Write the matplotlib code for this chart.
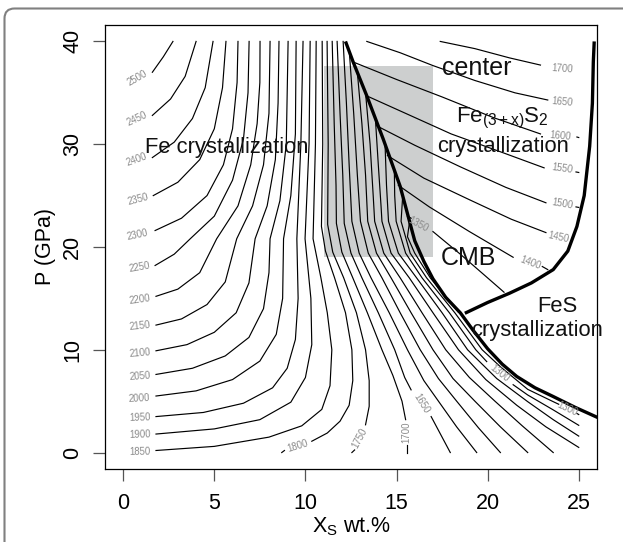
import matplotlib
matplotlib.use("Agg")
import matplotlib.pyplot as plt
from matplotlib.patches import Rectangle, FancyBboxPatch
from matplotlib.transforms import IdentityTransform

plt.rcParams['font.family'] = ['Liberation Sans', 'DejaVu Sans']
plt.rcParams['mathtext.fontset'] = 'custom'
plt.rcParams['mathtext.rm'] = 'Liberation Sans'
plt.rcParams['mathtext.it'] = 'Liberation Sans'
plt.rcParams['mathtext.default'] = 'regular'

# --- boundaries (X_S wt.%, P GPa) ---
eutectic = [(12.2, 40.0), (12.62, 38.0), (13.37, 34.7), (14.27, 30.5), (15.2, 25.9),
            (16.0, 20.6), (16.5, 18.6), (17.0, 16.9), (17.7, 15.1), (18.5, 13.6),
            (19.2, 11.9), (20.0, 10.1), (20.8, 8.6), (21.6, 7.4), (22.6, 6.3),
            (23.6, 5.45), (24.8, 4.4), (26.3, 3.2)]
fes_boundary = [(18.75, 13.55), (20.0, 14.6), (21.2, 15.5), (22.4, 16.5), (23.6, 17.8),
                (24.4, 19.6), (24.9, 22.0), (25.3, 25.0), (25.6, 29.8), (25.75, 34.0),
                (25.8, 38.0), (25.85, 40.0)]

# grey box (CMB -> center range)
box_x = (11.0, 17.0)
box_p = (19.05, 37.65)

# --- isotherms in the Fe field (each entry: list of segments) ---
fe_lines = [
    # 2500 .. 1850, starting at the left edge
    [[(1.6, 37.0), (2.2, 38.5), (2.73, 40)]],
    [[(1.6, 32.8), (2.6, 34.4), (3.4, 36.6), (4.0, 40)]],
    [[(1.6, 28.7), (2.8, 30.2), (3.8, 32.5), (4.5, 35.5), (4.93, 40)]],
    [[(1.65, 25.0), (3.0, 26.3), (4.2, 28.5), (5.0, 31.5), (5.45, 35.5), (5.64, 40)]],
    [[(1.75, 21.6), (3.2, 22.8), (4.6, 25.0), (5.5, 28.0), (6.0, 31.5), (6.25, 36), (6.3, 40)]],
    [[(1.75, 18.2), (2.8, 19.3), (3.68, 20.8), (5.0, 23), (6.0, 26.5), (6.6, 30.5), (6.85, 35), (6.91, 40)]],
    [[(1.8, 15.2), (3.0, 15.9), (4.2, 17.5), (5.13, 20.8), (6.3, 24), (7.0, 28), (7.35, 32), (7.5, 36), (7.51, 40)]],
    [[(1.8, 12.4), (3.2, 13.0), (4.6, 14.4), (5.6, 16.6), (6.23, 20.8), (7.1, 24), (7.7, 28), (8.0, 33), (8.06, 40)]],
    [[(1.8, 9.9), (3.5, 10.5), (5.0, 11.7), (6.2, 13.6), (6.9, 16.5), (7.24, 20.8), (7.9, 24), (8.35, 28.5), (8.5, 34), (8.55, 40)]],
    [[(1.8, 7.6), (3.8, 8.2), (5.6, 9.4), (6.9, 11.2), (7.7, 14), (8.0, 17.5), (8.06, 20.8), (8.6, 24.5), (8.95, 30), (9.05, 40)]],
    [[(1.8, 5.5), (4.0, 6.0), (6.0, 7.1), (7.5, 8.9), (8.4, 11.5), (8.75, 15), (8.8, 20.8), (9.2, 25), (9.45, 31), (9.49, 40)]],
    [[(1.8, 3.5), (4.4, 3.9), (6.6, 4.8), (8.2, 6.3), (9.0, 8.2), (9.45, 11), (9.6, 15), (9.53, 20.8), (9.75, 30), (9.87, 40)]],
    [[(1.8, 1.8), (5.0, 2.3), (7.5, 3.2), (9.2, 4.9), (10.0, 7.3), (10.35, 10.5), (10.3, 15), (9.98, 20.8), (10.2, 30), (10.26, 40)]],
    [[(1.8, 0.2), (5.0, 0.6), (8.0, 1.5), (9.8, 2.6), (10.9, 4.2), (11.35, 6.5), (11.45, 10), (11.2, 13.6), (10.85, 17), (10.42, 20.8), (10.55, 30), (10.59, 40)]],
    # 1800 .. 1650, from the bottom edge to the top edge
    [[(8.7, 0.0), (8.85, 0.2)],
     [(10.35, 1.1), (11.2, 1.9), (11.9, 3.05), (12.4, 4.6), (12.6, 7), (12.55, 10), (12.2, 13.6), (11.6, 17), (11.1, 19.6), (10.88, 22), (10.95, 30), (10.92, 40)]],
    [[(12.55, 0.0), (12.7, 0.25)],
     [(13.3, 2.7), (13.5, 4.5), (13.5, 7), (13.3, 10), (12.8, 13.6), (12.1, 17), (11.5, 19.5), (11.22, 22.2), (11.25, 30), (11.19, 40)]],
    [[(15.55, 0.0), (15.55, 0.7)],
     [(15.5, 3.2), (15.3, 5), (14.8, 7.5), (14.2, 10), (13.4, 13.6), (12.6, 17), (12.0, 19.5), (11.7, 22.3), (11.68, 26), (11.58, 32), (11.47, 40)]],
    [[(17.95, 0.0), (16.9, 3.5)],
     [(15.8, 6.1), (15.45, 7.3), (14.9, 10), (14.0, 13.6), (13.1, 17), (12.5, 19.4), (12.13, 22.3), (12.05, 27), (11.9, 33), (11.74, 40)]],
    # lines running along the eutectic
    [[(19.4, 0.0), (18.3, 2.5), (17.3, 5.0), (16.5, 7.0), (15.6, 10), (14.6, 13.6), (13.6, 17), (12.95, 19.4), (12.55, 22.5), (12.4, 28), (12.25, 34), (12.07, 40)]],
    [[(20.7, 0.0), (19.5, 2.4), (18.3, 5.0), (17.3, 7.2), (16.3, 10), (15.2, 13.6), (14.2, 17), (13.45, 19.4), (13.02, 22.5), (12.85, 27), (12.65, 33), (12.41, 39.0)]],
    [[(22.2, 0.0), (20.7, 2.5), (19.3, 5.0), (18.1, 7.2), (17.0, 10), (15.8, 13.6), (14.7, 17), (13.9, 19.4), (13.42, 22.5), (13.3, 27), (13.1, 32), (12.85, 37.0)]],
    [[(23.6, 0.0), (21.9, 2.6), (20.4, 5.0), (19.0, 7.3), (17.7, 10), (16.4, 13.6), (15.2, 17), (14.3, 19.4), (13.8, 22.5), (13.72, 25), (13.55, 30), (13.3, 35.0)]],
    [[(25.0, 0.5), (23.2, 2.5), (21.6, 4.6), (19.9, 7.1), (18.4, 10), (17.0, 13.6), (15.7, 17), (14.7, 19.4), (14.2, 22.5), (14.15, 24), (14.0, 28), (13.84, 32.5)]],
    [[(25.0, 1.6), (23.6, 3.2), (22.2, 4.95), (20.5, 7.2), (18.9, 10), (17.5, 13.6), (16.1, 17), (15.1, 19.4), (14.56, 22.5), (14.45, 26), (14.37, 30.0)]],
    [[(25.0, 2.65), (23.6, 4.15), (22.2, 5.6), (21.4, 6.6)],
     [(19.95, 8.85), (19.35, 10), (17.9, 13.6), (16.4, 17), (15.5, 19.4), (14.98, 22.5), (14.9, 25), (14.88, 27.5)]],
    [[(25.0, 3.7), (24.9, 3.8)],
     [(23.9, 4.7), (23.6, 4.95), (22.2, 6.15), (20.7, 8.35), (19.7, 10), (18.2, 13.6), (16.65, 17), (15.75, 19.4), (15.25, 22.5), (15.34, 25.0)]],
    [[(18.4, 13.65), (16.85, 17), (16.0, 19.4), (15.6, 21), (15.72, 22.5)]],
]

# --- isotherms in the Fe(3+x)S2 field ---
fs_lines = [
    [[(17.4, 40), (19.3, 39.3), (21.2, 38.4), (22.9, 37.7)]],
    [[(13.37, 40), (15.2, 38.9), (17.0, 37.65), (19.3, 36.2), (21.5, 35.0), (23.3, 34.3)]],
    [[(12.62, 38.0), (15, 36.3), (17.5, 34.6), (20.3, 32.6), (22.9, 31.0)], [(24.9, 30.7), (25.0, 30.65)]],
    [[(13.37, 34.7), (15.5, 33.0), (18, 31.0), (20.8, 29.2), (23.1, 27.7)], [(24.85, 27.3), (25.0, 27.25)]],
    [[(13.9, 31.8), (16, 29.9), (18.5, 27.8), (21, 25.8), (23.2, 24.3)], [(24.85, 23.9), (25.0, 23.85)]],
    [[(14.5, 28.9), (16.5, 26.7), (19, 24.6), (21.3, 22.7), (23.2, 21.4)]],
    [[(15.1, 26.0), (16.8, 23.9), (19.0, 21.5), (21.4, 19.0)], [(23.0, 18.1), (23.3, 17.8)]],
    [[(15.6, 23.0), (15.8, 22.8)], [(17.0, 21.5), (18.5, 19.3), (19.8, 17.3), (20.9, 15.6)]],
]

# contour labels: (text, X, P, rotation)
iso_labels = [
    ("2500", 0.8, 36.4, 30), ("2450", 0.75, 32.5, 25), ("2400", 0.75, 28.5, 20),
    ("2350", 0.8, 24.6, 15), ("2300", 0.8, 21.2, 12), ("2250", 0.9, 18.0, 10),
    ("2200", 0.9, 14.9, 8), ("2150", 0.9, 12.3, 6), ("2100", 0.9, 9.7, 5),
    ("2050", 0.9, 7.4, 4), ("2000", 0.9, 5.3, 3), ("1950", 0.9, 3.4, 2),
    ("1900", 0.9, 1.7, 2), ("1850", 0.9, 0.1, 1),
    ("1800", 9.55, 0.65, 17), ("1750", 13.0, 1.4, 62), ("1700", 15.55, 1.95, 90),
    ("1650", 16.35, 4.75, -58),
    ("1700", 24.1, 37.3, -4), ("1650", 24.1, 34.1, -5), ("1600", 24.0, 30.8, -5),
    ("1550", 24.1, 27.6, -8), ("1500", 24.1, 24.2, -10), ("1450", 23.9, 20.9, -12),
    ("1400", 22.35, 18.5, -20), ("1350", 16.2, 22.2, -28),
    ("1300", 20.65, 7.7, -38), ("1300", 24.4, 4.25, -25),
]

# field annotations: (text, X, P, size)
field_labels = [
    ("Fe crystallization", 5.7, 29.1, 15.8),
    ("center", 19.42, 36.7, 18),
    ("Fe$_{(3+x)}$S$_2$", 20.8, 32.1, 16),
    ("crystallization", 20.86, 29.2, 15.8),
    ("CMB", 18.96, 18.2, 18),
    ("FeS", 23.83, 13.7, 15.8),
    ("crystallization", 22.73, 11.3, 15.8),
]

fig = plt.figure(figsize=(6.23, 5.42), dpi=100)
ax = fig.add_axes([0.1685, 0.1347, 0.7897, 0.8192])

ax.add_patch(Rectangle((box_x[0], box_p[0]), box_x[1] - box_x[0], box_p[1] - box_p[0],
                       fc='#cdcfcf', ec='none', zorder=0.5))

for segs in fe_lines + fs_lines:
    for seg in segs:
        xs, ps = zip(*seg)
        ax.plot(xs, ps, color='k', lw=0.85, zorder=2)

for bnd in (eutectic, fes_boundary):
    xs, ps = zip(*bnd)
    ax.plot(xs, ps, color='k', lw=2.4, zorder=3, solid_capstyle='butt')

for txt, x, p, rot in iso_labels:
    ax.text(x, p, txt, fontsize=6.9, color='#8a8a8a', rotation=rot,
            ha='center', va='center', rotation_mode='anchor', zorder=4)

for txt, x, p, size in field_labels:
    ax.text(x, p, txt, fontsize=size, color='#111111', ha='center', va='baseline',
            zorder=5, clip_on=False)

ax.set_xlim(-1, 26)
ax.set_ylim(-1.6, 41.6)
ax.set_xticks([0, 5, 10, 15, 20, 25])
ax.set_yticks([0, 10, 20, 30, 40])
ax.tick_params(axis='both', length=8.6, width=0.9, color='#555555', labelsize=15.5)
ax.tick_params(axis='x', pad=9)
ax.tick_params(axis='y', pad=7)
for lab in ax.get_yticklabels():
    lab.set_rotation(90)
    lab.set_va('center')
for sp in ax.spines.values():
    sp.set_linewidth(0.9)

ax.set_xlabel('X$_S$ wt.%', fontsize=15.5)
ax.set_ylabel('P (GPa)', fontsize=15.5)
ax.xaxis.set_label_coords(0.5, -0.105)
ax.yaxis.set_label_coords(-0.1, 0.5)

fig.patches.append(FancyBboxPatch((4.5, -40), 700, 533.5 + 40, boxstyle='round,pad=0,rounding_size=10',
                                  transform=IdentityTransform(), fc='none', ec='#808080', lw=1.5))

fig.savefig('out.png', dpi=100)
